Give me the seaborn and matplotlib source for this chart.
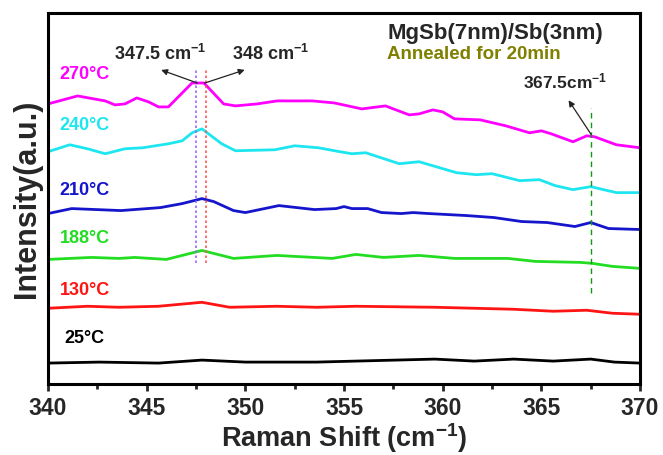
import seaborn as sns
import matplotlib.pyplot as plt
import pandas as pd

# Raman spectra (arbitrary intensity units, stacked)
shift_270 = [340.0, 341.5, 342.9, 343.4, 343.9, 344.5, 345.1, 345.6, 346.1, 347.3, 347.9, 348.9, 349.5,
             350.6, 351.6, 353.4, 354.5, 355.9, 357.1, 358.3, 358.8, 359.5, 360.0, 360.6, 361.9,
             363.2, 364.4, 365.0, 365.5, 366.6, 367.3, 367.7, 368.8, 370.0]
int_270 = [281, 289, 284, 280, 281, 287, 283, 278, 278, 302, 302, 281, 279,
           281, 284, 284, 282, 276, 279, 270, 271, 275, 273, 266, 265,
           259, 252, 254, 251, 243, 249, 248, 240, 237]

shift_240 = [340.0, 341.1, 342.0, 342.9, 343.9, 344.8, 346.1, 346.8, 347.3, 347.8, 348.8, 349.5,
             351.5, 352.5, 353.7, 354.8, 355.4, 356.1, 357.8, 358.8, 360.7, 361.7, 362.5,
             363.9, 364.9, 365.7, 366.6, 367.5, 368.8, 370.0]
int_240 = [233, 240, 236, 231, 236, 237, 241, 244, 252, 256, 241, 234,
           235, 239, 237, 233, 231, 232, 221, 223, 212, 210, 211,
           204, 205, 199, 195, 198, 192, 192]

shift_210 = [340.0, 341.2, 343.7, 345.7, 346.8, 347.8, 348.4, 349.4, 350.0, 351.7, 353.5, 354.6,
             355.0, 355.4, 356.2, 356.9, 357.9, 358.5, 359.3, 361.2, 362.6, 364.0, 365.3,
             366.7, 367.5, 368.4, 370.0]
int_210 = [171, 176, 174, 177, 181, 186, 183, 174, 172, 179, 175, 176,
           178, 176, 176, 172, 171, 172, 171, 169, 167, 163, 162,
           158, 162, 156, 155]

shift_188 = [340.0, 342.2, 343.6, 344.4, 346.0, 347.8, 349.4, 351.6, 354.4, 355.6,
             357.0, 358.8, 360.6, 363.3, 364.7, 367.0, 367.6, 368.6, 370.0]
int_188 = [125, 127, 126, 127, 125, 134, 126, 129, 126, 130,
           127, 129, 126, 126, 123, 122, 121, 118, 116]

shift_130 = [340.0, 342.0, 343.6, 345.6, 347.8, 349.2, 351.6, 353.6, 355.6, 359.6,
             361.6, 363.6, 365.6, 367.3, 368.6, 370.0]
int_130 = [76, 78, 77, 78, 82, 77, 78, 77, 78, 77, 76, 75, 73, 74, 71, 70]

shift_25 = [340.0, 342.6, 345.6, 347.8, 350.0, 353.6, 357.6, 359.6, 361.6, 363.6,
            365.6, 367.5, 368.7, 370.0]
int_25 = [21, 22, 21, 24, 22, 22, 24, 25, 23, 25, 23, 25, 22, 21]

temps = ['270°C', '240°C', '210°C', '188°C', '130°C', '25°C']
colors = ['#FF00FF', '#1EE6F0', '#1515CC', '#22DD22', '#FF1414', '#000000']
label_y = [311, 259, 194, 146, 94, 46]

peak_marks = [347.5, 348.0, 367.5]

shifts = [shift_270, shift_240, shift_210, shift_188, shift_130, shift_25]
ints = [int_270, int_240, int_210, int_188, int_130, int_25]
df = pd.concat([pd.DataFrame({'shift': s, 'intensity': i, 'temp': t})
                for s, i, t in zip(shifts, ints, temps)], ignore_index=True)

sns.set_style("white")
plt.rcParams['font.family'] = ['Liberation Sans', 'DejaVu Sans']
plt.rcParams['font.weight'] = 'bold'
plt.rcParams['mathtext.fontset'] = 'custom'
plt.rcParams['mathtext.rm'] = 'Liberation Sans:bold'
plt.rcParams['mathtext.it'] = 'Liberation Sans:bold'
plt.rcParams['mathtext.bf'] = 'Liberation Sans:bold'

fig = plt.figure(figsize=(6.63, 4.55), dpi=100)
ax = fig.add_axes([0.0724, 0.156, 0.893, 0.815])

sns.lineplot(data=df, x='shift', y='intensity', hue='temp', hue_order=temps,
             palette=dict(zip(temps, colors)), estimator=None, sort=True,
             linewidth=2.0, legend=False, ax=ax)

# temperature labels
for t, c, y in zip(temps, colors, label_y):
    xpos = 340.85 if t == '25°C' else 340.6
    ax.text(xpos, y, t, color=c, fontsize=13, fontweight='bold',
            va='center', ha='left')

# peak guide lines
ax.plot([peak_marks[0]] * 2, [121, 315], color='#9966FF', lw=1.2, ls=(0, (1.5, 1.5)))
ax.plot([peak_marks[1]] * 2, [121, 315], color='#FF5555', lw=1.2, ls=(0, (1.5, 1.5)))
ax.plot([peak_marks[2]] * 2, [91, 277], color='#119911', lw=1.0, ls=(0, (4, 3)))

arrow = dict(arrowstyle='-|>', color='#222222', lw=0.9, mutation_scale=9)
ax.annotate('', xy=(345.6, 316), xytext=(347.7, 301), arrowprops=arrow)
ax.annotate('', xy=(350.1, 316), xytext=(347.8, 301), arrowprops=arrow)
ax.annotate('', xy=(366.3, 287), xytext=(367.6, 248), arrowprops=arrow)

ax.text(345.7, 331, '347.5 cm$^{-1}$', fontsize=13, ha='center', va='center')
ax.text(351.3, 331, '348 cm$^{-1}$', fontsize=13, ha='center', va='center')
ax.text(366.2, 304, '367.5cm$^{-1}$', fontsize=12.5, ha='center', va='center')

ax.text(357.2, 352, 'MgSb(7nm)/Sb(3nm)', fontsize=16, ha='left', va='center')
ax.text(357.2, 331, 'Annealed for 20min', fontsize=13.5, color='#808000',
        ha='left', va='center')

ax.set_xlim(340, 370)
ax.set_ylim(0, 372)
ax.set_xticks([340, 345, 350, 355, 360, 365, 370])
ax.set_xticks([342.5, 347.5, 352.5, 357.5, 362.5, 367.5], minor=True)
ax.set_yticks([])
ax.tick_params(axis='x', which='major', direction='out', length=5, width=2,
               labelsize=16.5, bottom=True, top=False, pad=4)
ax.tick_params(axis='x', which='minor', direction='out', length=3.5, width=2,
               bottom=True, top=False)
for lab in ax.get_xticklabels():
    lab.set_fontweight('bold')

ax.set_xlabel('Raman Shift (cm$^{-1}$)', fontsize=19.5, fontweight='bold', labelpad=1)
ax.set_ylabel('Intensity(a.u.)', fontsize=22, fontweight='bold', labelpad=4)

for sp in ax.spines.values():
    sp.set_linewidth(2.2)
    sp.set_color('black')

fig.savefig('out.png', dpi=100)
